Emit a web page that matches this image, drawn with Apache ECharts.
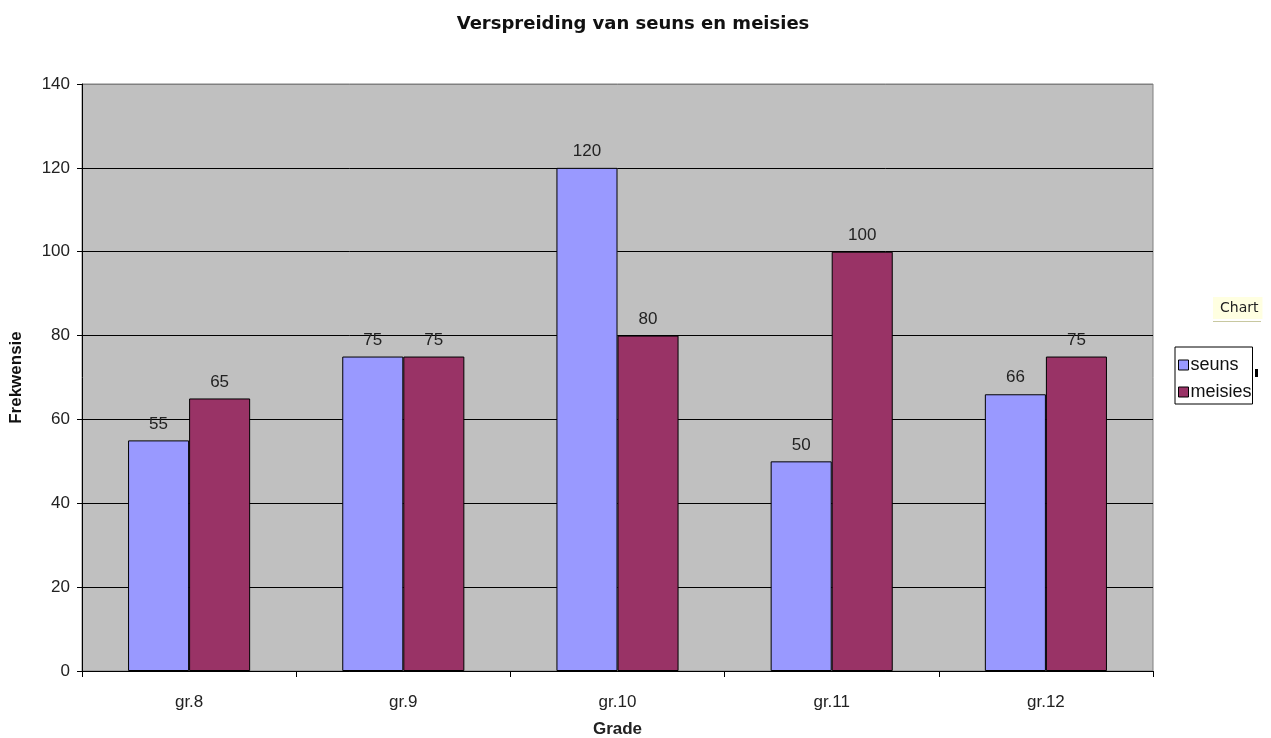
<!DOCTYPE html>
<html>
<head>
<meta charset="utf-8">
<script src="https://cdn.jsdelivr.net/npm/echarts@6/dist/echarts.min.js"></script>
<style>
  html, body { margin: 0; padding: 0; background: #fff; }
  #chart { width: 1271px; height: 738px; }
</style>
</head>
<body>
<div id="chart"></div>
<script>
// Grades and counts of boys (seuns) and girls (meisies)
const grades = ['gr.8', 'gr.9', 'gr.10', 'gr.11', 'gr.12'];
const seuns = [55, 75, 120, 50, 66];
const meisies = [65, 75, 80, 100, 75];

const chart = echarts.init(document.getElementById('chart'), null, { renderer: 'canvas' });

const FONT = 'Liberation Sans, Arial, sans-serif';

const labelStyle = {
  show: true,
  position: 'top',
  distance: 8,
  color: '#222',
  fontFamily: FONT,
  fontSize: 17
};

chart.setOption({
  animation: false,
  backgroundColor: '#ffffff',
  title: {
    text: 'Verspreiding van seuns en meisies',
    left: 628,
    textAlign: 'center',
    top: 10,
    textStyle: {
      fontFamily: 'DejaVu Sans, Verdana, sans-serif',
      fontWeight: 'bold',
      fontSize: 18,
      color: '#111'
    }
  },
  legend: {
    orient: 'vertical',
    left: 1175,
    top: 347,
    icon: 'rect',
    itemWidth: 10,
    itemHeight: 10,
    itemGap: 9,
    padding: [9, 1, 3, 3],
    borderColor: '#000',
    borderWidth: 1,
    backgroundColor: '#fff',
    itemStyle: { borderColor: '#000', borderWidth: 1 },
    textStyle: {
      fontFamily: FONT,
      fontSize: 18,
      color: '#111',
      padding: [0, 0, 0, -3]
    },
    data: ['seuns', 'meisies']
  },
  grid: {
    left: 82,
    right: 118,
    top: 84,
    bottom: 67,
    containLabel: false,
    outerBoundsMode: 'none',
    show: true,
    backgroundColor: '#C0C0C0',
    borderColor: '#808080',
    borderWidth: 1
  },
  xAxis: {
    type: 'category',
    data: grades,
    name: 'Grade',
    nameLocation: 'middle',
    nameGap: 50,
    nameTextStyle: {
      fontFamily: FONT,
      fontWeight: 'bold',
      fontSize: 17,
      color: '#222'
    },
    axisLine: { lineStyle: { color: '#000', width: 1 } },
    axisTick: { show: true, alignWithLabel: false, length: 6, lineStyle: { color: '#000' } },
    axisLabel: {
      margin: 23,
      color: '#222',
      fontFamily: FONT,
      fontSize: 17
    },
    splitLine: { show: false }
  },
  yAxis: {
    type: 'value',
    min: 0,
    max: 140,
    interval: 20,
    name: 'Frekwensie',
    nameLocation: 'middle',
    nameGap: 57,
    nameRotate: 90,
    nameTextStyle: {
      fontFamily: FONT,
      fontWeight: 'bold',
      fontSize: 17,
      color: '#111'
    },
    axisLine: { show: true, lineStyle: { color: '#000', width: 1 } },
    axisTick: { show: true, inside: false, length: 5, lineStyle: { color: '#000' } },
    axisLabel: {
      margin: 12,
      color: '#222',
      fontFamily: FONT,
      fontSize: 17
    },
    splitLine: {
      show: true,
      lineStyle: {
        color: ['#000', '#000', '#000', '#000', '#000', '#000', '#000', '#808080'],
        width: 1
      }
    }
  },
  series: [
    {
      name: 'seuns',
      type: 'bar',
      data: seuns,
      barGap: '0%',
      barCategoryGap: '43%',
      itemStyle: { color: '#9999FF', borderColor: '#000', borderWidth: 1 },
      label: labelStyle
    },
    {
      name: 'meisies',
      type: 'bar',
      data: meisies,
      itemStyle: { color: '#993366', borderColor: '#000', borderWidth: 1 },
      label: labelStyle
    }
  ],
  graphic: [
    {
      type: 'text',
      left: 1213,
      top: 297,
      style: {
        text: 'Chart',
        fontFamily: 'DejaVu Sans, Verdana, sans-serif',
        fontSize: 14,
        fill: '#222',
        backgroundColor: '#FFFFE1',
        padding: [4, 4, 4, 7]
      }
    },
    {
      type: 'rect',
      left: 1213,
      top: 321,
      shape: { width: 48, height: 1 },
      style: { fill: '#c8c8a0' }
    },
    {
      type: 'rect',
      left: 1255,
      top: 369,
      shape: { width: 3, height: 8 },
      style: { fill: '#000' }
    }
  ]
});
</script>
</body>
</html>
